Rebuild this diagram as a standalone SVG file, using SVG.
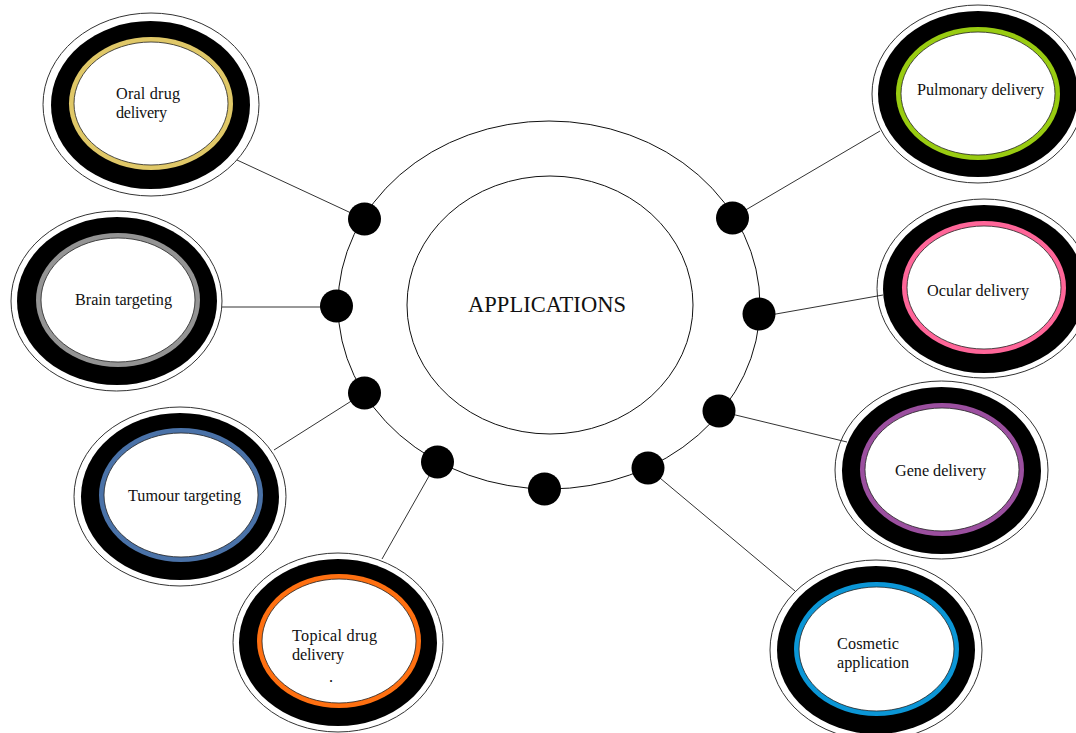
<svg xmlns="http://www.w3.org/2000/svg" width="1076" height="733" viewBox="0 0 1076 733">
<style>
text{font-family:"Liberation Serif",serif;font-size:16.2px;fill:#111}
.o{fill:#fff;stroke:#333;stroke-width:1}
.h{fill:#fff;stroke:#111;stroke-width:1}
.k{fill:#000}
.n{fill:#fff;stroke:#222;stroke-width:.8}
.c line{stroke:#333;stroke-width:1}
.d{fill:#000}
</style>
<rect width="1076" height="733" fill="#fff"/>
<g id="hub"><ellipse class="h" cx="549" cy="305" rx="211" ry="184"/><ellipse class="h" cx="550" cy="305" rx="143" ry="129"/><text x="468" y="312" textLength="158" style="font-size:22.5px">APPLICATIONS</text></g>
<g id="oral"><ellipse class="o" cx="151" cy="104.500" rx="108" ry="91.500"/><ellipse class="k" cx="150.500" cy="105" rx="99.500" ry="84"/><ellipse fill="#e0c868" cx="151" cy="103.500" rx="82" ry="66.500"/><ellipse class="n" cx="151" cy="103.500" rx="77" ry="61.500"/><text x="116" y="99" textLength="64">Oral drug</text><text x="116" y="118" textLength="51">delivery</text></g>
<g id="brain"><ellipse class="o" cx="116.500" cy="301" rx="105.500" ry="90"/><ellipse class="k" cx="117" cy="301" rx="100" ry="84"/><ellipse fill="#949494" cx="118" cy="300" rx="82" ry="67"/><ellipse class="n" cx="118" cy="300" rx="77" ry="62"/><text x="75" y="305" textLength="97">Brain targeting</text></g>
<g id="tumour"><ellipse class="o" cx="180" cy="496.500" rx="106" ry="89.500"/><ellipse class="k" cx="180" cy="496.500" rx="99" ry="83.500"/><ellipse fill="#4a72a8" cx="181" cy="495" rx="82" ry="67"/><ellipse class="n" cx="181" cy="495" rx="77" ry="62"/><text x="128" y="501" textLength="113">Tumour targeting</text></g>
<g id="topical"><ellipse class="o" cx="338" cy="642.500" rx="105" ry="89.500"/><ellipse class="k" cx="338" cy="642.500" rx="99" ry="83.500"/><ellipse fill="#ff7011" cx="339" cy="641" rx="82" ry="67"/><ellipse class="n" cx="339" cy="641" rx="77" ry="62"/><text x="292" y="641" textLength="85">Topical drug</text><text x="292" y="660" textLength="52">delivery</text><text x="329" y="682">.</text></g>
<g id="pulmonary"><ellipse class="o" cx="978" cy="94" rx="106" ry="89"/><ellipse class="k" cx="978" cy="94" rx="100" ry="83"/><ellipse fill="#99cc11" cx="978" cy="93.500" rx="82" ry="66.500"/><ellipse class="n" cx="978" cy="93.500" rx="77" ry="61.500"/><text x="917" y="95" textLength="127">Pulmonary delivery</text></g>
<g id="ocular"><ellipse class="o" cx="984" cy="288.500" rx="107" ry="89.500"/><ellipse class="k" cx="984" cy="289" rx="101" ry="84"/><ellipse fill="#ff6699" cx="984" cy="287.500" rx="82" ry="66.500"/><ellipse class="n" cx="984" cy="287.500" rx="77" ry="61.500"/><text x="927" y="296" textLength="102">Ocular delivery</text></g>
<g id="gene"><ellipse class="o" cx="941.500" cy="470" rx="106.500" ry="89"/><ellipse class="k" cx="941.500" cy="470.500" rx="99.500" ry="83.500"/><ellipse fill="#9b4f9f" cx="942" cy="469.500" rx="82" ry="66.500"/><ellipse class="n" cx="942" cy="469.500" rx="77" ry="61.500"/><text x="895" y="476" textLength="91">Gene delivery</text></g>
<g id="cosmetic"><ellipse class="o" cx="876" cy="650" rx="106" ry="90"/><ellipse class="k" cx="876" cy="650" rx="99" ry="84"/><ellipse fill="#0b96d6" cx="876.500" cy="649" rx="82.500" ry="67"/><ellipse class="n" cx="876.500" cy="649" rx="77.500" ry="62"/><text x="837" y="649" textLength="62">Cosmetic</text><text x="837" y="668" textLength="72">application</text></g>
<g id="connectors" class="c">
<line x1="237" y1="160" x2="364" y2="219"/>
<line x1="222" y1="307" x2="336" y2="307"/>
<line x1="274" y1="450" x2="364" y2="393"/>
<line x1="382" y1="559" x2="437" y2="462"/>
<line x1="880" y1="131" x2="732" y2="218"/>
<line x1="883" y1="295" x2="759" y2="317"/>
<line x1="847" y1="442" x2="719" y2="411"/>
<line x1="795" y1="591" x2="648" y2="468"/>
</g>
<g id="dots">
<circle class="d" cx="364.500" cy="219" r="16.500"/><circle class="d" cx="336.500" cy="306" r="16.500"/><circle class="d" cx="364.500" cy="393" r="16.500"/><circle class="d" cx="437.500" cy="462" r="16.500"/><circle class="d" cx="544.500" cy="489" r="16.500"/><circle class="d" cx="648" cy="468" r="16.500"/><circle class="d" cx="719" cy="411" r="16.500"/><circle class="d" cx="759" cy="314" r="16.500"/><circle class="d" cx="732.500" cy="218" r="16.500"/>
</g>
</svg>
